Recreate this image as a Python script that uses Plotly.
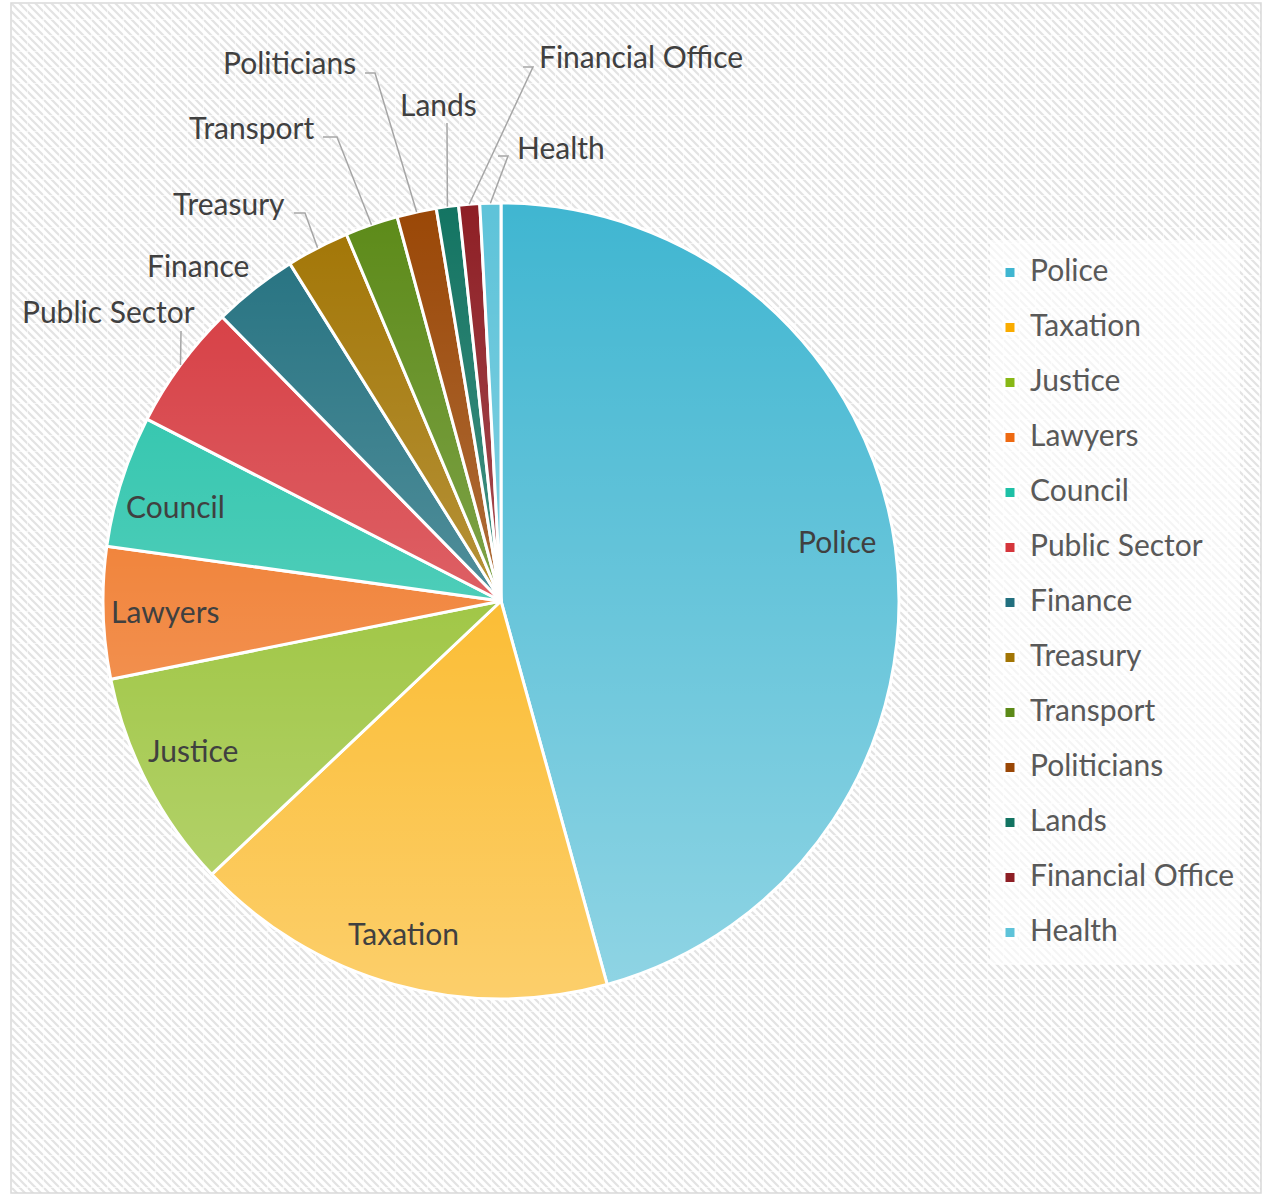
import base64
import math

import plotly.graph_objects as go

W, H = 1264, 1195

# chart data (share of mentions)
categories = ["Police", "Taxation", "Justice", "Lawyers", "Council", "Public Sector",
              "Finance", "Treasury", "Transport", "Politicians", "Lands",
              "Financial Office", "Health"]
values = [45.7, 17.25, 8.9, 5.35, 5.35, 5.1, 3.45, 2.55, 2.15, 1.6, 0.9, 0.85, 0.85]

slice_colors = ["#40B6D1", "#FAAC00", "#88B816", "#EE6A12", "#1EC0A6", "#D5363C",
                "#22707F", "#A27504", "#5C8A18", "#9A4706", "#137462", "#8E1F25", "#5EC3D9"]

# pie geometry in pixels
CX, CY, R = 501, 601, 398
FONT = "Lato"
FS = 30

# labels drawn inside the big slices, with a small nudge (px) off the 0.865*R point
inside_labels = {"Police": (-5, -14), "Taxation": (-5, 0), "Justice": (-2, -9),
                 "Lawyers": (9, 0), "Council": (3, 9)}

# label positions for the small slices (text x, y, anchor) + elbow points of leader line
callouts = {
    "Public Sector": ((108, 311, "center"), [(181, 331)]),
    "Finance": ((198, 265, "center"), []),
    "Treasury": ((287, 203, "right"), [(294, 213), (305, 213)]),
    "Transport": ((316, 127, "right"), [(323, 137), (337, 137)]),
    "Politicians": ((358, 62, "right"), [(365, 73), (375, 73)]),
    "Lands": ((438, 104, "center"), [(447, 123)]),
    "Financial Office": ((537, 56, "left"), [(523, 67), (533, 67)]),
    "Health": ((515, 147, "left"), [(498, 156), (508, 156)]),
}


def px(x):
    return x / W


def py(y):
    return 1 - y / H


def svg_uri(svg):
    return "data:image/svg+xml;base64," + base64.b64encode(svg.encode()).decode()


# mid angle of every slice, clockwise from 12 o'clock
total = sum(values)
mids = {}
acc = 0
for name, v in zip(categories, values):
    mids[name] = (acc + v / 2) / total * 2 * math.pi
    acc += v

legend_labels = [f'<span style="font-size:{FS}px;baseline-shift:7px">{c}</span>' for c in categories]

fig = go.Figure(go.Pie(
    labels=legend_labels,
    values=values,
    sort=False,
    direction="clockwise",
    rotation=0,
    textinfo="none",
    hoverinfo="label+percent",
    marker=dict(colors=slice_colors, line=dict(color="white", width=[3] * len(values))),
    domain=dict(x=[px(CX - R), px(CX + R)], y=[py(CY + R), py(CY - R)]),
))

annotations = []
shapes = []

# labels inside the big slices
for name, (dx, dy) in inside_labels.items():
    a = mids[name]
    annotations.append(dict(
        x=px(CX + 0.865 * R * math.sin(a) + dx), y=py(CY - 0.865 * R * math.cos(a) + dy),
        text=name, showarrow=False, xanchor="center", yanchor="middle",
        font=dict(family=FONT, size=FS, color="#404040")))

# labels outside with leader lines
for name, (txt, elbow) in callouts.items():
    tx, ty, anchor = txt
    annotations.append(dict(
        x=px(tx), y=py(ty), text=name, showarrow=False, xanchor=anchor, yanchor="middle",
        font=dict(family=FONT, size=FS, color="#404040")))
    if elbow:
        a = mids[name]
        pts = elbow + [(CX + R * math.sin(a), CY - R * math.cos(a))]
        path = "M" + " L".join(f"{px(x):.5f},{py(y):.5f}" for x, y in pts)
        shapes.append(dict(type="path", xref="paper", yref="paper", path=path,
                           line=dict(color="#A6A6A6", width=1.5)))

# chart area border
shapes.append(dict(type="rect", xref="paper", yref="paper", x0=px(11), x1=px(1261),
                   y0=py(1193), y1=py(3), line=dict(color="#D9D9D9", width=1.5)))

# patterned chart background
bw, bh = 1250, 1190
bg_svg = (f"<svg xmlns='http://www.w3.org/2000/svg' width='{bw}' height='{bh}' viewBox='0 0 {bw} {bh}'>"
          "<defs><pattern id='p' width='8' height='8' patternUnits='userSpaceOnUse'>"
          "<rect width='8' height='8' fill='#ffffff'/>"
          "<path d='M-2,-2L10,10M-2,6L2,10M6,-2L10,2' stroke='#E3E3E3' stroke-width='2.2'/></pattern>"
          "<pattern id='q' width='16' height='16' patternUnits='userSpaceOnUse'>"
          "<path d='M0,0H16M0,0V16' stroke='#ffffff' stroke-width='1.5' stroke-opacity='0.8'/></pattern></defs>"
          f"<rect width='{bw}' height='{bh}' fill='url(#p)'/><rect width='{bw}' height='{bh}' fill='url(#q)'/></svg>")

# soft white gradient over the pie (lighter towards the bottom)
d = 2 * R
shade_svg = (f"<svg xmlns='http://www.w3.org/2000/svg' width='{d}' height='{d}' viewBox='0 0 {d} {d}'>"
             "<defs><linearGradient id='g' x1='0' y1='0' x2='0' y2='1'>"
             "<stop offset='0' stop-color='#fff' stop-opacity='0'/>"
             "<stop offset='1' stop-color='#fff' stop-opacity='0.42'/></linearGradient></defs>"
             f"<circle cx='{R}' cy='{R}' r='{R}' fill='url(#g)'/></svg>")

images = [
    dict(source=svg_uri(bg_svg), xref="paper", yref="paper", x=px(11), y=py(3),
         sizex=bw / W, sizey=bh / H, xanchor="left", yanchor="top", sizing="stretch", layer="below"),
    dict(source=svg_uri(shade_svg), xref="paper", yref="paper", x=px(CX - R), y=py(CY - R),
         sizex=d / W, sizey=d / H, xanchor="left", yanchor="top", sizing="stretch", layer="above"),
]

fig.update_layout(
    width=W, height=H,
    margin=dict(l=0, r=0, t=0, b=0),
    paper_bgcolor="white",
    font=dict(family=FONT),
    showlegend=True,
    legend=dict(x=px(990), y=py(240), xanchor="left", yanchor="top",
                bgcolor="rgba(255,255,255,0.65)", borderwidth=0,
                font=dict(family=FONT, size=40, color="#595959")),
    annotations=annotations,
    shapes=shapes,
    images=images,
)

# drop the default body margin so the figure sits at the page corner
fig.write_html("out.html", config={"displayModeBar": False},
               post_script="document.body.style.margin = '0';")
